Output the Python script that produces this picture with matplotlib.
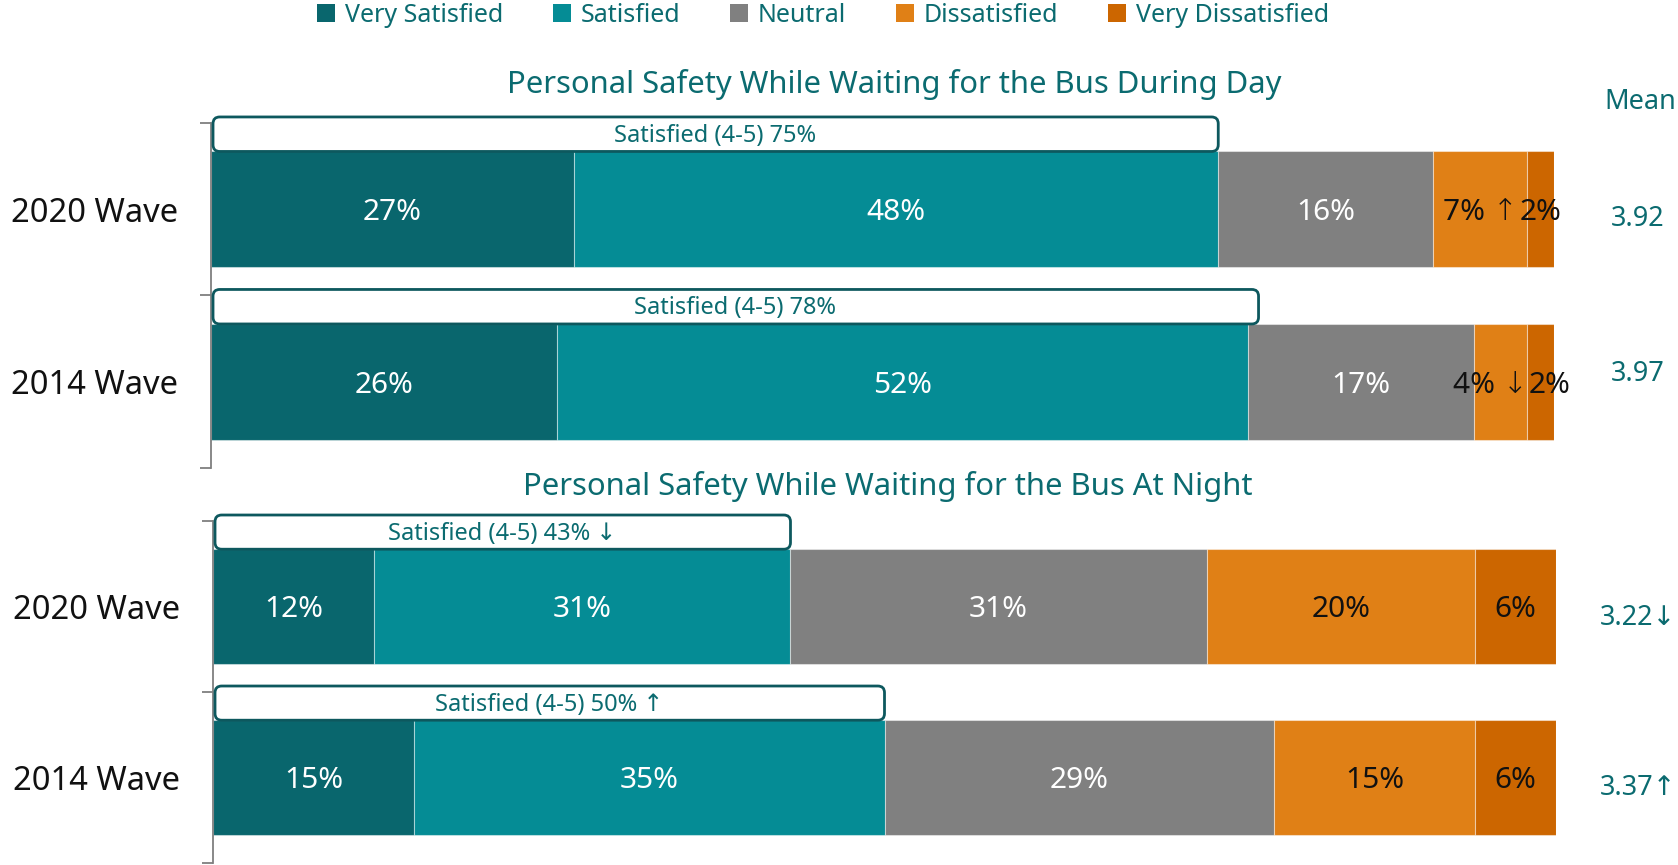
import numpy as np
import matplotlib.pyplot as plt
from matplotlib.patches import FancyBboxPatch, Patch

categories = ['Very Satisfied', 'Satisfied', 'Neutral', 'Dissatisfied', 'Very Dissatisfied']
waves = ['2020 Wave', '2014 Wave']

day_2020 = [27, 48, 16, 7, 2]
day_2014 = [26, 52, 17, 4, 2]
night_2020 = [12, 31, 31, 20, 6]
night_2014 = [15, 35, 29, 15, 6]

# significance arrows attached to single segment labels (row, segment, arrow)
day_arrows = {(0, 3): ' ↑', (1, 3): ' ↓'}
night_arrows = {}

day_top2 = [75, 78]
night_top2 = [43, 50]
day_top2_arrows = ['', '']
night_top2_arrows = [' ↓', ' ↑']

day_means = ['3.92', '3.97']
night_means = ['3.22↓', '3.37↑']

colors = ['#09666d', '#058c95', '#808080', '#e08016', '#cc6600']
label_colors = ['white', 'white', 'white', '#111111', '#111111']
teal = '#0b6b70'
box_edge = '#0d585e'

main_font = ['Noto Sans', 'DejaVu Sans']

W, H = 1678, 865
fig = plt.figure(figsize=(W / 100, H / 100), dpi=100)


def draw_panel(ax, rows, arrows, top2, top2_arrows):
    bar_h = 0.67
    box_h = 0.2
    for i, vals in enumerate(rows):
        vals = np.array(vals, dtype=float)
        share = vals / vals.sum() * 100
        lefts = np.concatenate([[0], np.cumsum(share)[:-1]])
        for j, (v, s, left) in enumerate(zip(vals, share, lefts)):
            ax.barh(i, s, left=left, height=bar_h, color=colors[j],
                    edgecolor=(1, 1, 1, 0.45), linewidth=0.8)
            txt = f'{int(v)}%' + arrows.get((i, j), '')
            # two thin neighbours: push their labels apart
            x, ha = left + s / 2, 'center'
            if s < 5 and j + 1 < len(share) and share[j + 1] < 5:
                x, ha = left + s, 'right'
            elif s < 5 and j > 0 and share[j - 1] < 5:
                x, ha = left + 0.1, 'left'
            ax.text(x, i + 0.02, txt, ha=ha, va='center', fontsize=21.5,
                    fontweight='light', color=label_colors[j], family=main_font)
        # top-2 box sitting on the bar
        y0 = i - bar_h / 2 - box_h
        box = FancyBboxPatch((0.15, y0), top2[i] - 0.15, box_h,
                             boxstyle='round,pad=0,rounding_size=0.5',
                             mutation_aspect=0.078,
                             facecolor='white', edgecolor=box_edge,
                             linewidth=2, clip_on=False, zorder=3)
        ax.add_patch(box)
        ax.text(top2[i] / 2, y0 + box_h / 2 + 0.01,
                f'Satisfied (4-5) {top2[i]}%{top2_arrows[i]}',
                ha='center', va='center', fontsize=17, color=teal,
                family=main_font, zorder=4)

    ax.set_xlim(0, 100)
    ax.set_ylim(1.5, -0.5)
    ax.set_yticks([0, 1])
    ax.set_yticklabels(waves, fontsize=23.5, color='#111111', family=main_font)
    ax.set_yticks([-0.5, 0.5, 1.5], minor=True)
    ax.tick_params(axis='y', which='major', length=0, pad=24)
    ax.tick_params(axis='y', which='minor', length=8, width=1.3, color='#7f7f7f')
    ax.set_xticks([])
    for side in ['top', 'right', 'bottom']:
        ax.spines[side].set_visible(False)
    ax.spines['left'].set_color('#7f7f7f')
    ax.spines['left'].set_linewidth(1.3)


ax_day = fig.add_axes([211 / W, 1 - 468 / H, 1343 / W, 345 / H])
draw_panel(ax_day, [day_2020, day_2014], day_arrows, day_top2, day_top2_arrows)

ax_night = fig.add_axes([213 / W, 1 - 863 / H, 1343 / W, 342 / H])
draw_panel(ax_night, [night_2020, night_2014], night_arrows, night_top2, night_top2_arrows)

fig.text(894 / W, 1 - 85 / H, 'Personal Safety While Waiting for the Bus During Day',
         ha='center', va='center', fontsize=22.3, color=teal, family=main_font)
fig.text(888 / W, 1 - 487 / H, 'Personal Safety While Waiting for the Bus At Night',
         ha='center', va='center', fontsize=22.3, color=teal, family=main_font)

# mean column
fig.text(1640 / W, 1 - 102 / H, 'Mean', ha='center', va='center',
         fontsize=19.5, color=teal, family=main_font)
for txt, y in zip(day_means + night_means, [219, 374, 618, 788]):
    fig.text(1638 / W, 1 - y / H, txt, ha='center', va='center',
             fontsize=19.5, color=teal, family=main_font)

handles = [Patch(facecolor=c, edgecolor='none') for c in colors]
fig.legend(handles, categories, loc='center', bbox_to_anchor=(823 / W, 1 - 15 / H),
           ncol=5, frameon=False, handlelength=0.7, handleheight=0.7,
           handletextpad=0.4, columnspacing=2.0,
           prop={'family': main_font, 'size': 18}, labelcolor=teal)

fig.savefig('out.png', dpi=100)
